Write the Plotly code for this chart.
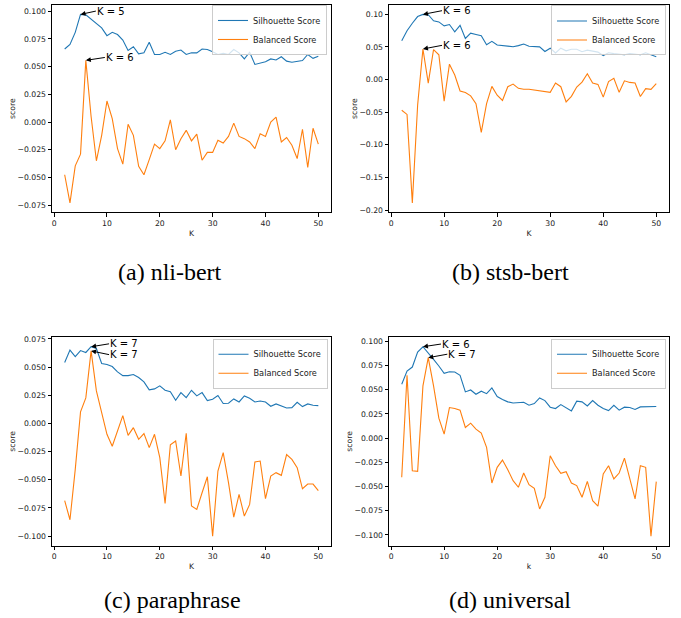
import plotly.graph_objects as go

K = list(range(2, 51))

# (a) nli-bert
sil_a = [0.066, 0.070, 0.081, 0.0972, 0.0968, 0.093, 0.089, 0.085, 0.078, 0.081,
         0.079, 0.074, 0.0646, 0.068, 0.0616, 0.0625, 0.072, 0.061, 0.061, 0.063,
         0.061, 0.064, 0.065, 0.061, 0.0625, 0.0625, 0.066, 0.0655, 0.0634, 0.061,
         0.062, 0.061, 0.0655, 0.0625, 0.057, 0.063, 0.052, 0.053, 0.0545, 0.057,
         0.056, 0.059, 0.055, 0.054, 0.055, 0.0555, 0.061, 0.0575, 0.0595]
bal_a = [-0.0476, -0.073, -0.0396, -0.029, 0.0557, 0.005, -0.035, -0.012, 0.019, 0.003,
         -0.024, -0.038, -0.002, -0.012, -0.040, -0.0476, -0.034, -0.020, -0.024, -0.017,
         0.002, -0.025, -0.015, -0.0075, -0.017, -0.011, -0.0345, -0.0274, -0.0274, -0.0164,
         -0.019, -0.013, -0.001, -0.013, -0.015, -0.018, -0.024, -0.0105, -0.013, 0.000,
         0.0045, -0.018, -0.014, -0.021, -0.033, -0.0065, -0.041, -0.0056, -0.020]

# (b) stsb-bert
sil_b = [0.0595, 0.0747, 0.0863, 0.0965, 0.0998, 0.0993, 0.090, 0.0883, 0.0823, 0.0843,
         0.073, 0.083, 0.063, 0.071, 0.069, 0.067, 0.0534, 0.0585, 0.053, 0.0524,
         0.052, 0.0503, 0.052, 0.0544, 0.051, 0.050, 0.050, 0.043, 0.048, 0.0407,
         0.048, 0.044, 0.0463, 0.0463, 0.0427, 0.045, 0.0437, 0.042, 0.0367, 0.041,
         0.0397, 0.039, 0.038, 0.040, 0.0387, 0.038, 0.041, 0.038, 0.035]
bal_b = [-0.047, -0.0535, -0.189, -0.039, 0.0468, -0.0054, 0.0458, 0.038, -0.033, 0.0235,
         0.007, -0.0175, -0.020, -0.025, -0.037, -0.081, -0.037, -0.0105, -0.024, -0.032,
         -0.011, -0.007, -0.0135, -0.015, -0.015, -0.016, -0.0165, -0.0186, -0.0196, -0.0054,
         -0.011, -0.0343, -0.0257, -0.0115, -0.004, 0.0088, -0.0054, -0.0074, -0.027, -0.003,
         0.002, -0.0196, -0.002, -0.0044, -0.0054, -0.026, -0.014, -0.015, -0.0064]

# (c) paraphrase
sil_c = [0.054, 0.065, 0.0593, 0.0646, 0.0629, 0.068, 0.0664, 0.0531, 0.0522, 0.0504,
         0.0457, 0.0424, 0.0424, 0.0433, 0.0407, 0.0368, 0.0297, 0.0306, 0.0333, 0.0294,
         0.0282, 0.0205, 0.0273, 0.0229, 0.0294, 0.0244, 0.0273, 0.0202, 0.0214, 0.0247,
         0.0176, 0.0179, 0.0217, 0.0190, 0.0244, 0.0223, 0.0190, 0.0199, 0.0190, 0.0152,
         0.0173, 0.0155, 0.0137, 0.014, 0.0187, 0.0149, 0.0173, 0.0161, 0.0158]
bal_c = [-0.0686, -0.0855, -0.0408, 0.0102, 0.0226, 0.0643, 0.0288, 0.0102, -0.0097, -0.0203,
         -0.0067, 0.0069, -0.0106, -0.0038, -0.0141, -0.0091, -0.0215, -0.0097, -0.0304, -0.071,
         -0.0189, -0.0156, -0.0467, -0.0088, -0.0733, -0.0763, -0.0615, -0.0473, -0.100, -0.0423,
         -0.026, -0.0526, -0.0831, -0.063, -0.0822, -0.0719, -0.0343, -0.0334, -0.0668, -0.0467,
         -0.0437, -0.0461, -0.0277, -0.0319, -0.0393, -0.058, -0.0538, -0.0538, -0.0597]

# (d) universal
sil_d = [0.0557, 0.0694, 0.0735, 0.089, 0.0945, 0.0883, 0.0814, 0.0746, 0.067, 0.0687,
         0.0684, 0.065, 0.0478, 0.0498, 0.0454, 0.0485, 0.046, 0.0519, 0.043, 0.040,
         0.0375, 0.0364, 0.0371, 0.0371, 0.034, 0.0357, 0.0416, 0.0388, 0.032, 0.0306,
         0.0347, 0.0313, 0.0282, 0.0382, 0.0375, 0.0333, 0.0388, 0.034, 0.0306, 0.0285,
         0.034, 0.0289, 0.032, 0.0316, 0.0296, 0.0323, 0.0323, 0.0327, 0.0327]
bal_d = [-0.0405, 0.065, -0.0337, -0.0343, 0.054, 0.0832, 0.054, 0.0206, 0.0041, 0.0316,
         0.0306, 0.0289, 0.011, 0.0155, 0.0093, 0.0052, -0.0096, -0.0464, -0.0302, -0.0227,
         -0.0326, -0.044, -0.0508, -0.0361, -0.0481, -0.0519, -0.0732, -0.0611, -0.0182, -0.0285,
         -0.0364, -0.0347, -0.0464, -0.0491, -0.0611, -0.0447, -0.0646, -0.0704, -0.0371, -0.0285,
         -0.0422, -0.0361, -0.0206, -0.0405, -0.0629, -0.0285, -0.0302, -0.1013, -0.045]

captions = ["(a) nli-bert", "(b) stsb-bert", "(c) paraphrase", "(d) universal"]
xtitles = ["K", "K", "K", "k"]
series = [(sil_a, bal_a), (sil_b, bal_b), (sil_c, bal_c), (sil_d, bal_d)]

W, H = 681, 618
BLUE, ORANGE = "#1f77b4", "#ff7f0e"
FONT = "DejaVu Sans"

# layout in pixels: (left, right, top, bottom)
boxes = [(52, 331, 2, 211), (389, 669, 2, 211), (52, 331, 337, 547), (389, 669, 337, 547)]
legpos = [(327, 2), (666, 2.5), (327.5, 338.5), (666, 338.5)]
cappos = [(170, 271), (510, 271), (173, 602), (510, 602)]
ytick_fmt = [(0.025, ".3f"), (0.05, ".2f"), (0.025, ".3f"), (0.025, ".3f")]
# annotation text anchor offsets (data units from the marked point)
txt_off = [((2.9, 0.0030), (3.6, 0.0026)),
           ((3.6, 0.0057), (3.6, 0.0056)),
           ((3.4, 0.0026), (3.4, -0.0033)),
           ((3.4, 0.0028), (3.6, 0.0036))]

fig = go.Figure()
layout = dict(width=W, height=H, margin=dict(l=0, r=0, t=0, b=0),
              paper_bgcolor="white", plot_bgcolor="white",
              font=dict(family=FONT, size=7.7, color="#222"), annotations=[])

for i, (sil, bal) in enumerate(series):
    n = i + 1
    xa = "x" if n == 1 else f"x{n}"
    ya = "y" if n == 1 else f"y{n}"
    lg = "legend" if n == 1 else f"legend{n}"
    fig.add_trace(go.Scatter(x=K, y=sil, mode="lines", name="Silhouette Score",
                             line=dict(color=BLUE, width=1.1), xaxis=xa, yaxis=ya, legend=lg))
    fig.add_trace(go.Scatter(x=K, y=bal, mode="lines", name="Balanced Score",
                             line=dict(color=ORANGE, width=1.1), xaxis=xa, yaxis=ya, legend=lg))
    l, r, t, b = boxes[i]
    lo = min(min(sil), min(bal)); hi = max(max(sil), max(bal))
    m = (hi - lo) * 0.05
    dt, fmt = ytick_fmt[i]
    axcommon = dict(showline=True, linecolor="black", linewidth=1, mirror=True,
                    ticks="outside", ticklen=3.5, tickwidth=0.8, tickcolor="black",
                    showgrid=False, zeroline=False, tickfont=dict(size=7.7, family=FONT, color="#222"))
    layout["xaxis" if n == 1 else f"xaxis{n}"] = dict(
        domain=[l / W, r / W], range=[-0.4, 52.4], anchor=ya, tickmode="linear", tick0=0, dtick=10,
        title=dict(text=xtitles[i], font=dict(size=7.7, family=FONT), standoff=3), **axcommon)
    layout["yaxis" if n == 1 else f"yaxis{n}"] = dict(
        domain=[1 - b / H, 1 - t / H], range=[lo - m, hi + m], anchor=xa, tickmode="linear",
        tick0=0, dtick=dt, tickformat=fmt,
        title=dict(text="score", font=dict(size=7.7, family=FONT), standoff=0), **axcommon)
    lx, ly = legpos[i]
    layout[lg] = dict(x=lx / W, y=1 - ly / H, xanchor="right", yanchor="top",
                      bgcolor="rgba(255,255,255,0.8)", bordercolor="#cccccc", borderwidth=1,
                      font=dict(size=8.2, family=FONT, color="#222"), itemwidth=30,
                      tracegroupgap=0)
    # annotations at maxima
    for j, arr in enumerate((sil, bal)):
        mi = max(range(len(arr)), key=lambda q: arr[q])
        kx, vy = K[mi], arr[mi]
        dx, dy = txt_off[i][j]
        layout["annotations"].append(dict(
            x=kx, y=vy, xref=xa, yref=ya, axref=xa, ayref=ya, ax=kx + dx, ay=vy + dy,
            text=f"K = {kx}", showarrow=True, arrowhead=2, arrowsize=1, arrowwidth=1,
            arrowcolor="black", xanchor="left", yanchor="middle", borderpad=0,
            font=dict(size=10, family=FONT, color="black")))
    cx, cy = cappos[i]
    layout["annotations"].append(dict(
        x=cx / W, y=1 - cy / H, xref="paper", yref="paper", text=captions[i], showarrow=False,
        xanchor="center", yanchor="middle", font=dict(size=24, family="Liberation Serif", color="black")))

fig.update_layout(**layout)
fig.write_html("out.html", config={"displayModeBar": False},
               post_script="document.body.style.margin='0px';")
